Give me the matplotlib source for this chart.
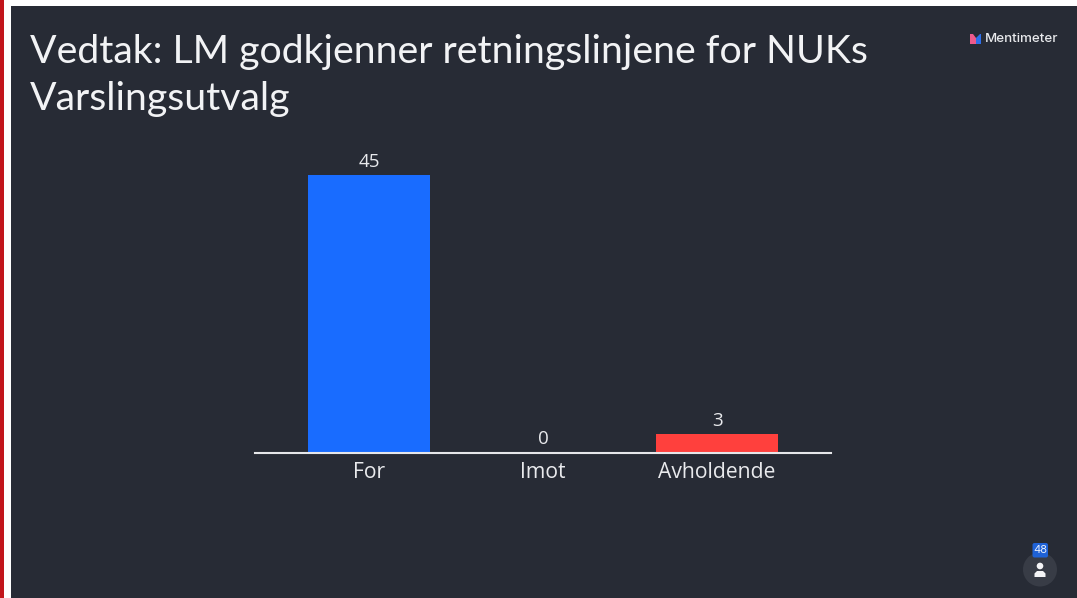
import matplotlib
matplotlib.use("Agg")
import matplotlib.pyplot as plt
from matplotlib.patches import Rectangle, Circle, FancyBboxPatch, Polygon

categories = ["For", "Imot", "Avholdende"]
votes = [45, 0, 3]
bar_colors = ["#196cff", "#196cff", "#ff403d"]
title_lines = ["Vedtak: LM godkjenner retningslinjene for NUKs", "Varslingsutvalg"]
BG = "#272b35"
W, H = 1077, 598

fig = plt.figure(figsize=(W / 100, H / 100), dpi=100, facecolor="white")

# page furniture in pixel coordinates
bg = fig.add_axes([0, 0, 1, 1])
bg.set_xlim(0, W)
bg.set_ylim(H, 0)
bg.axis("off")
bg.add_patch(Rectangle((0, 0), 3.5, H, color="#c2151b", lw=0))
bg.add_patch(Rectangle((11, 6), W - 11, H - 6, color=BG, lw=0))

for line, base in zip(title_lines, [63, 110]):
    fig.text(30 / W, 1 - base / H, line, color="#f2f3f5", fontsize=28.3, family="Lato",
             ha="left", va="baseline")

# logo
bg.add_patch(Polygon([(970, 44), (970, 34), (973, 34), (976, 38), (976, 44)], color="#ef5a8c", lw=0))
bg.add_patch(Polygon([(976, 44), (976, 38), (980, 34), (981, 34), (981, 44)], color="#2f6fe8", lw=0))
fig.text(985 / W, 1 - 39 / H, "Mentimeter", color="#e8e9ec", fontsize=9.6, family="Inter",
         ha="left", va="center", fontweight="medium")

# participant badge
bg.add_patch(Circle((1040, 569.5), 17, color="#383c46", lw=0))
bg.add_patch(Circle((1040, 566), 3.3, color="#f4f4f6", lw=0))
bg.add_patch(Polygon([(1034.5, 577), (1034.5, 573.5), (1037, 571), (1043, 571), (1045.5, 573.5), (1045.5, 577)],
                     color="#f4f4f6", lw=0))
bg.add_patch(FancyBboxPatch((1032.5, 543), 15.5, 14.5, boxstyle="round,pad=0,rounding_size=2",
                            color="#1f62d6", lw=0))
fig.text(1040 / W, 1 - 550 / H, "48", color="#e8eefc", fontsize=8, family="Inter",
         ha="center", va="center")

# chart axes: x range 255-831 px, y from baseline 452 px upward
ax = fig.add_axes([255 / W, 1 - 452.5 / H, (831 - 255) / W, (452.5 - 130) / H])
ax.patch.set_alpha(0)
x = list(range(len(categories)))
ax.bar(x, votes, width=0.70, color=bar_colors, linewidth=0)
ax.set_xlim(-0.655, 2.655)
ax.set_ylim(0, (452.5 - 130) / 6.16)
for s in ["top", "left", "right"]:
    ax.spines[s].set_visible(False)
ax.spines["bottom"].set_color("#e6e7ea")
ax.spines["bottom"].set_linewidth(1.5)
ax.set_yticks([])
ax.set_xticks(x)
ax.set_xticklabels(categories, fontsize=15.2, color="#e9eaed", family="Open Sans")
ax.tick_params(axis="x", length=0, pad=6.5)
for xi, v in zip(x, votes):
    ax.annotate(str(v), (xi, v), xytext=(0, 3), textcoords="offset points", ha="center",
                va="bottom", color="#e9eaed", fontsize=13.5, family="Open Sans")

fig.savefig("out.png", dpi=100, facecolor=fig.get_facecolor())
